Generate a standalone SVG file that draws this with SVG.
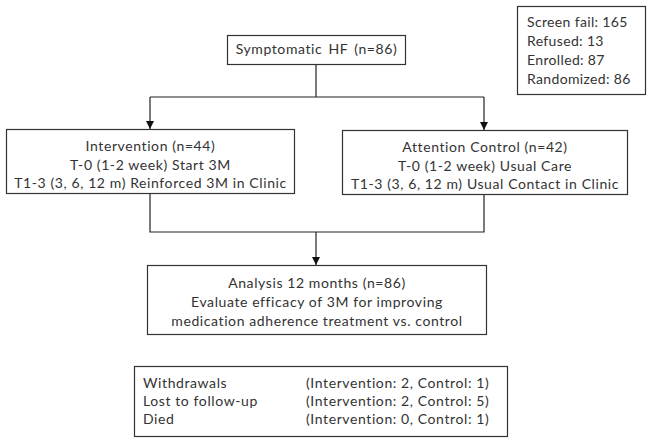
<svg xmlns="http://www.w3.org/2000/svg" width="652" height="442" viewBox="0 0 652 442">
<style>
.box{fill:#fff;stroke:#333;stroke-width:1.2}
.ln{fill:none;stroke:#222;stroke-width:1.2}
text{font-family:Lato,"Open Sans",sans-serif;font-size:14px;fill:#333;letter-spacing:0.6px}
.c{text-anchor:middle}
.s{letter-spacing:0.35px}
</style>
<defs>
<marker id="ah" viewBox="0 0 10 10" refX="10" refY="5" markerWidth="8" markerHeight="8" markerUnits="userSpaceOnUse" orient="auto">
<path d="M0,0 L10,5 L0,10 z" fill="#111"/>
</marker>
</defs>
<rect width="652" height="442" fill="#fff"/>
<g id="connectors">
<path class="ln" d="M316,64 V97 M150,97 H484"/>
<path class="ln" d="M150,97 V129" marker-end="url(#ah)"/>
<path class="ln" d="M484,97 V130" marker-end="url(#ah)"/>
<path class="ln" d="M150,193 V232 H484 V194"/>
<path class="ln" d="M316,232 V265" marker-end="url(#ah)"/>
</g>
<g id="screen">
<rect class="box" x="517.5" y="6.5" width="128" height="88"/>
<text class="s" x="527" y="27">Screen fail: 165</text>
<text class="s" x="527" y="46">Refused: 13</text>
<text class="s" x="527" y="65">Enrolled: 87</text>
<text class="s" x="527" y="84">Randomized: 86</text>
</g>
<g id="symptomatic">
<rect class="box" x="227.5" y="35.5" width="178" height="29"/>
<text class="c" x="316.5" y="54" word-spacing="2">Symptomatic HF (n=86)</text>
</g>
<g id="intervention">
<rect class="box" x="6.5" y="129.5" width="288" height="64"/>
<text class="c" x="150.5" y="151">Intervention (n=44)</text>
<text class="c" x="150.5" y="169.5">T-0 (1-2 week) Start 3M</text>
<text class="c" x="150.5" y="188">T1-3 (3, 6, 12 m) Reinforced 3M in Clinic</text>
</g>
<g id="control">
<rect class="box" x="342.5" y="130.5" width="285" height="64"/>
<text class="c" x="485" y="152">Attention Control (n=42)</text>
<text class="c" x="485" y="170.5">T-0 (1-2 week) Usual Care</text>
<text class="c" x="485" y="189">T1-3 (3, 6, 12 m) Usual Contact in Clinic</text>
</g>
<g id="analysis">
<rect class="box" x="147.5" y="265.5" width="339" height="69"/>
<text class="c" x="317" y="288">Analysis 12 months (n=86)</text>
<text class="c" x="317" y="307">Evaluate efficacy of 3M for improving</text>
<text class="c" x="317" y="326">medication adherence treatment vs. control</text>
</g>
<g id="outcomes">
<rect class="box" x="134.5" y="366.5" width="373" height="70"/>
<text x="143" y="388">Withdrawals</text>
<text x="143" y="406">Lost to follow-up</text>
<text x="143" y="424">Died</text>
<text x="306" y="388">(Intervention: 2, Control: 1)</text>
<text x="306" y="406">(Intervention: 2, Control: 5)</text>
<text x="306" y="424">(Intervention: 0, Control: 1)</text>
</g>
</svg>
